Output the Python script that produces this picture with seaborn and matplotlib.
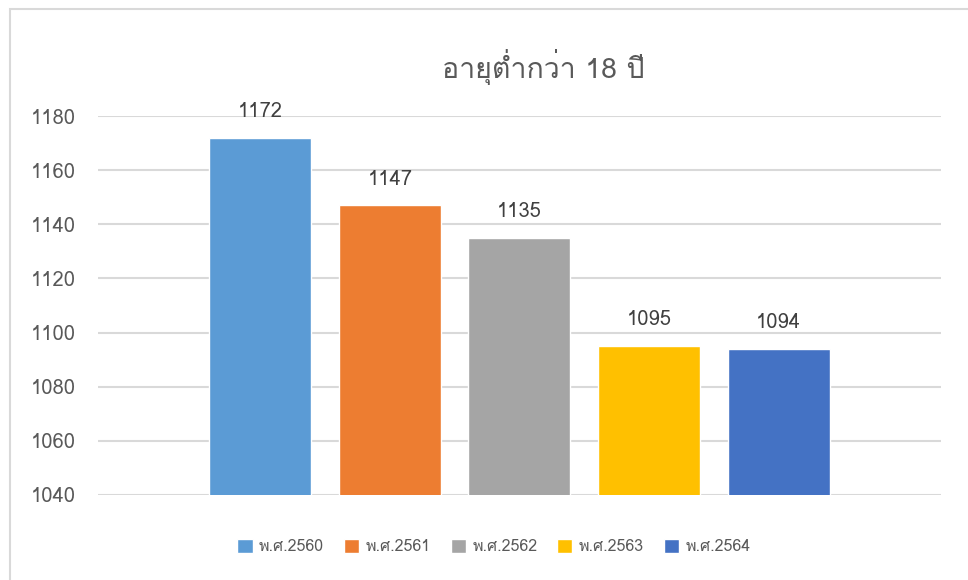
import matplotlib
matplotlib.use("Agg")
import matplotlib.pyplot as plt
import seaborn as sns
import pandas as pd
from matplotlib import font_manager, ft2font
from matplotlib.patches import Rectangle

years = ["พ.ศ.2560", "พ.ศ.2561", "พ.ศ.2562", "พ.ศ.2563", "พ.ศ.2564"]
counts = [1172, 1147, 1135, 1095, 1094]
colors = ["#5B9BD5", "#ED7D31", "#A5A5A5", "#FFC000", "#4472C4"]
y_ticks = [1040, 1060, 1080, 1100, 1120, 1140, 1160, 1180]
title = "อายุต่ำกว่า 18 ปี"


# find a font that can draw Thai, if there is one
def thai_font():
    for f in font_manager.fontManager.ttflist:
        try:
            if 0x0E2D in ft2font.FT2Font(f.fname).get_charmap():
                return f.name
        except Exception:
            pass
    return None


sns.set_theme(style="white")
fam = ["DejaVu Sans"]
tf = thai_font()
if tf:
    fam = [tf, "DejaVu Sans"]
plt.rcParams["font.family"] = fam

df = pd.DataFrame({"year": years, "count": counts})

fig = plt.figure(figsize=(9.68, 5.8), dpi=100)
ax = fig.add_axes([98 / 968, 1 - 495 / 580, (940.7 - 98) / 968, (495 - 116) / 580])

sns.barplot(data=df, x="year", y="count", hue="year", palette=colors,
            width=0.787, dodge=False, legend=True, ax=ax, saturation=1)

for c in ax.containers:
    ax.bar_label(c, padding=12, fontsize=14.5, color="#404040")

ax.set_ylim(1040, 1180)
ax.set_xlim(-1.252, 5.25)
ax.set_yticks(y_ticks)
ax.yaxis.grid(True, color="#D9D9D9", linewidth=1.5)
ax.set_axisbelow(True)
ax.set_xticks([])
ax.set_xlabel("")
ax.set_ylabel("")
ax.tick_params(axis="y", labelsize=14.5, labelcolor="#595959", length=0, pad=16)
sns.despine(ax=ax, left=True, bottom=True, top=True, right=True)

ax.legend(loc="center", bbox_to_anchor=(494 / 968, (580 - 547) / 580), bbox_transform=fig.transFigure,
          ncol=5, frameon=False, fontsize=11.5, handlelength=0.95, handleheight=0.95,
          handletextpad=0.4, columnspacing=1.25, labelcolor="#595959")

fig.text(543 / 968, 1 - 78 / 580, title, ha="center", va="baseline",
         fontsize=20.5, color="#595959")

# chart border (the picture is cut off at right and bottom)
fig.patches.append(Rectangle((10 / 968, -0.1), 1.2, 1.1 - 9 / 580, transform=fig.transFigure,
                             fill=False, edgecolor="#D9D9D9", linewidth=1.5))

fig.savefig("out.png", dpi=100)
